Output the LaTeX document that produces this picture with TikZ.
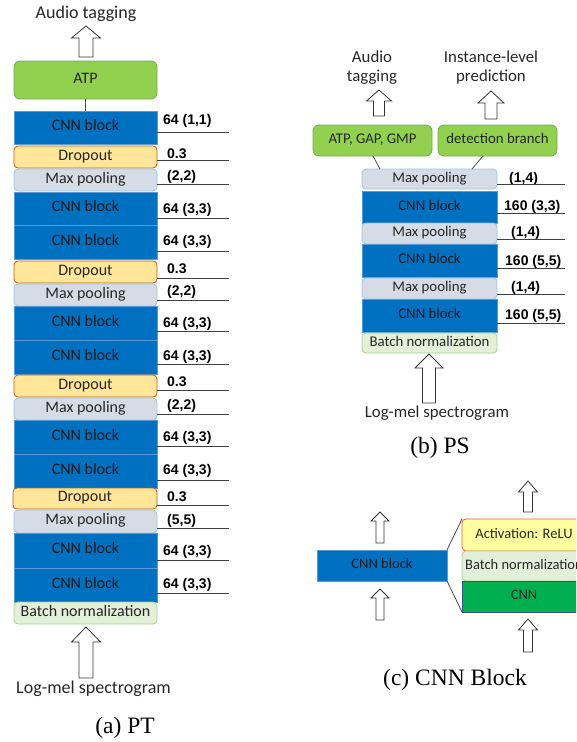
\documentclass[tikz,border=0pt]{standalone}
\usepackage{fontspec}
\setmainfont{Carlito}
\newfontfamily\labfont{Liberation Sans}
\newfontfamily\capfont{Liberation Serif}
\usetikzlibrary{calc}
\definecolor{cnnblue}{HTML}{0070C0}
\definecolor{cnnedge}{HTML}{5B9BD5}
\definecolor{atpfill}{HTML}{92D050}
\definecolor{atpedge}{HTML}{70AD47}
\definecolor{dropfill}{HTML}{FFE699}
\definecolor{dropedge}{HTML}{C55A11}
\definecolor{mpfill}{HTML}{D6DCE5}
\definecolor{mpedge}{HTML}{9DC3E6}
\definecolor{bnfill}{HTML}{E2F0D9}
\definecolor{bnedge}{HTML}{A9D18E}
\definecolor{actfill}{HTML}{FFFF9F}
\definecolor{actedge}{HTML}{E0603A}
\definecolor{cnngreen}{HTML}{00B050}
\definecolor{cnngedge}{HTML}{2F5597}
\definecolor{txt}{HTML}{262626}
\newcommand\blk[6]{\node[#1, minimum width={(#4)-(#3)}, minimum height={(#6)-(#5)}] (#2) at ({((#3)+(#4))/2},{((#5)+(#6))/2})}
\newcommand\lab[7]{\node[labnode, anchor=base west] (#1) at (#2,#3) {#7}; \draw[labline] (#5,#4) -- (#6,#4);}
\newcommand\harrow[6]{\draw[harr] (#1,#2) -- (#1+#5,#3) -- (#1+#6,#3) -- (#1+#6,#4) -- (#1-#6,#4) -- (#1-#6,#3) -- (#1-#5,#3) -- cycle;}
\begin{document}
\begin{tikzpicture}[x=1pt,y=-1pt,
  bx/.style={inner sep=0pt, outer sep=0pt, line width=0.8pt, text=txt, text height=0.8em, text depth=0.16em},
  cnn/.style={bx, fill=cnnblue, draw=cnnedge, text=black!90},
  drop/.style={bx, fill=dropfill, draw=dropedge, rounded corners=4pt},
  mp/.style={bx, fill=mpfill, draw=mpedge, rounded corners=4pt},
  bn/.style={bx, fill=bnfill, draw=bnedge, rounded corners=4pt},
  atp/.style={bx, fill=atpfill, draw=atpedge, rounded corners=6pt},
  act/.style={bx, fill=actfill, draw=actedge, rounded corners=4pt},
  cnng/.style={bx, fill=cnngreen, draw=cnngedge},
  labnode/.style={inner sep=0pt, font=\labfont\bfseries\fontsize{14}{16}\selectfont, text=black},
  labline/.style={draw=black!75, line width=0.8pt},
  harr/.style={draw=black!80, fill=white, line width=0.8pt},
  conn/.style={draw=black!70, line width=0.8pt},
  plain/.style={inner sep=0pt, text=txt, align=center},
  captext/.style={inner sep=0pt, text=black, font=\capfont\fontsize{23.5}{26}\selectfont},
  fa/.style={font=\fontsize{16}{19}\selectfont},
  fb/.style={font=\fontsize{14.8}{17}\selectfont},
  fc/.style={font=\fontsize{14.5}{17}\selectfont}]
\useasboundingbox (0,0) rectangle (576,742);
\clip (0,0) rectangle (576,742);
% ---------------- panel (a)
\begin{scope}[every node/.append style={fa}]
\blk{atp}{atp}{14}{157}{61}{99} {ATP};
\blk{cnn}{a1}{14}{157}{111}{144} {CNN block};
\blk{drop}{d1}{14}{157}{146}{168} {Dropout};
\blk{mp}{m1}{14}{157}{169}{191} {Max pooling};
\blk{cnn}{a2}{14}{157}{192}{225} {CNN block};
\blk{cnn}{a3}{14}{157}{225}{259} {CNN block};
\blk{drop}{d2}{14}{157}{261}{283} {Dropout};
\blk{mp}{m2}{14}{157}{284}{306} {Max pooling};
\blk{cnn}{a4}{14}{157}{306}{340} {CNN block};
\blk{cnn}{a5}{14}{157}{340}{374} {CNN block};
\blk{drop}{d3}{14}{157}{375}{397} {Dropout};
\blk{mp}{m3}{14}{157}{398}{420} {Max pooling};
\blk{cnn}{a6}{14}{157}{420}{454} {CNN block};
\blk{cnn}{a7}{14}{157}{454}{488} {CNN block};
\blk{drop}{d4}{13}{157}{488}{509} {Dropout};
\blk{mp}{m4}{14}{157}{510}{533} {Max pooling};
\blk{cnn}{a8}{14}{157}{533}{568} {CNN block};
\blk{cnn}{a9}{14}{157}{568}{602} {CNN block};
\blk{bn}{bna}{14}{157}{602}{624} {Batch normalization};
\end{scope}
\draw[conn] (atp.south) -- (a1.north);
\lab{la1}{163}{124}{132}{157}{229}{64 (1,1)}
\lab{ld1}{167}{158}{160}{157}{229}{0.3}
\lab{lm1}{167}{180}{184}{157}{229}{(2,2)}
\lab{la2}{163}{213}{218}{157}{229}{64 (3,3)}
\lab{la3}{163}{245}{251}{157}{229}{64 (3,3)}
\lab{ld2}{167}{273}{278}{157}{229}{0.3}
\lab{lm2}{167}{295}{300}{157}{229}{(2,2)}
\lab{la4}{163}{327}{331}{157}{229}{64 (3,3)}
\lab{la5}{163}{360}{364}{157}{229}{64 (3,3)}
\lab{ld3}{167}{386}{390}{157}{229}{0.3}
\lab{lm3}{167}{409}{414}{157}{229}{(2,2)}
\lab{la6}{163}{441}{446}{157}{229}{64 (3,3)}
\lab{la7}{163}{474}{480}{157}{229}{64 (3,3)}
\lab{ld4}{167}{501}{505}{157}{229}{0.3}
\lab{lm4}{167}{524}{528}{157}{229}{(5,5)}
\lab{la8}{163}{555}{560}{157}{229}{64 (3,3)}
\lab{la9}{163}{588}{593}{157}{229}{64 (3,3)}
\harrow{86}{26}{38}{57}{14.5}{7}
\harrow{86}{627}{642}{678}{14.5}{7}
\node[plain, anchor=base, font=\fontsize{18}{20}\selectfont] (ta) at (86,18) {Audio tagging};
\node[plain, anchor=base, font=\fontsize{18}{20}\selectfont] (lma) at (93.5,693) {Log-mel spectrogram};
\node[captext, anchor=base] (capa) at (125,733) {(a) PT};
% ---------------- panel (b)
\begin{scope}[every node/.append style={fb}]
\blk{atp}{atpb}{313}{432}{125}{156} {ATP, GAP, GMP};
\blk{atp}{detb}{438}{557}{125}{156} {detection branch};
\blk{mp}{bm1}{362}{497}{169}{189} {Max pooling};
\blk{cnn}{bc1}{362}{497}{191}{223} {CNN block};
\blk{mp}{bm2}{362}{497}{223}{244} {Max pooling};
\blk{cnn}{bc2}{362}{497}{244}{277} {CNN block};
\blk{mp}{bm3}{362}{497}{278}{299} {Max pooling};
\blk{cnn}{bc3}{362}{497}{299}{332} {CNN block};
\blk{bn}{bnb}{362}{497}{333}{353} {Batch normalization};
\end{scope}
\coordinate (p1) at (373,156);
\coordinate (p2) at (380,169);
\coordinate (p3) at (483,156);
\coordinate (p4) at (472,169);
\draw[conn] (p1) -- (p2);
\draw[conn] (p3) -- (p4);
\lab{lb1}{509}{182}{184}{497}{565}{(1,4)}
\lab{lb2}{504}{210}{213}{497}{565}{160 (3,3)}
\lab{lb3}{511}{236}{239}{497}{565}{(1,4)}
\lab{lb4}{505}{265}{268}{497}{565}{160 (5,5)}
\lab{lb5}{511}{291}{294}{497}{565}{(1,4)}
\lab{lb6}{505}{319}{323}{497}{565}{160 (5,5)}
\harrow{379}{90}{101}{116}{12.5}{5.5}
\harrow{491}{91}{103}{119}{13}{6}
\harrow{429}{354}{368}{403}{14}{6.5}
\node[plain, anchor=base, font=\fontsize{16.8}{19}\selectfont] (tb1) at (372,62) {Audio};
\node[plain, anchor=base, font=\fontsize{16.8}{19}\selectfont] (tb2) at (372,81) {tagging};
\node[plain, anchor=base, font=\fontsize{16.8}{19}\selectfont] (ib1) at (491,62) {Instance-level};
\node[plain, anchor=base, font=\fontsize{16.8}{19}\selectfont] (ib2) at (491,81) {prediction};
\node[plain, anchor=base, font=\fontsize{16.8}{19}\selectfont] (lmb) at (437,417) {Log-mel spectrogram};
\node[captext, anchor=base] (capb) at (440,453) {(b) PS};
% ---------------- panel (c)
\begin{scope}[every node/.append style={fc}]
\blk{cnn}{cblk}{317}{447}{550}{581} {CNN block};
\blk{act}{actc}{462}{586}{519}{551} {Activation: ReLU};
\blk{bn}{bnc}{462}{586}{551}{581} {Batch normalization};
\blk{cnng}{cnc}{462}{586}{581}{612} {CNN};
\end{scope}
\draw[conn] (cblk.north east) -- (actc.north west);
\draw[conn] (cblk.south east) -- (cnc.south west);
\harrow{380}{512}{521}{543}{9}{4}
\harrow{380}{589}{598}{620}{9}{4}
\harrow{528}{481}{492}{512}{9.5}{4.5}
\harrow{528}{619}{630}{652}{9.5}{4.5}
\node[captext, anchor=base] (capc) at (455,685) {(c) CNN Block};
\end{tikzpicture}
\end{document}
